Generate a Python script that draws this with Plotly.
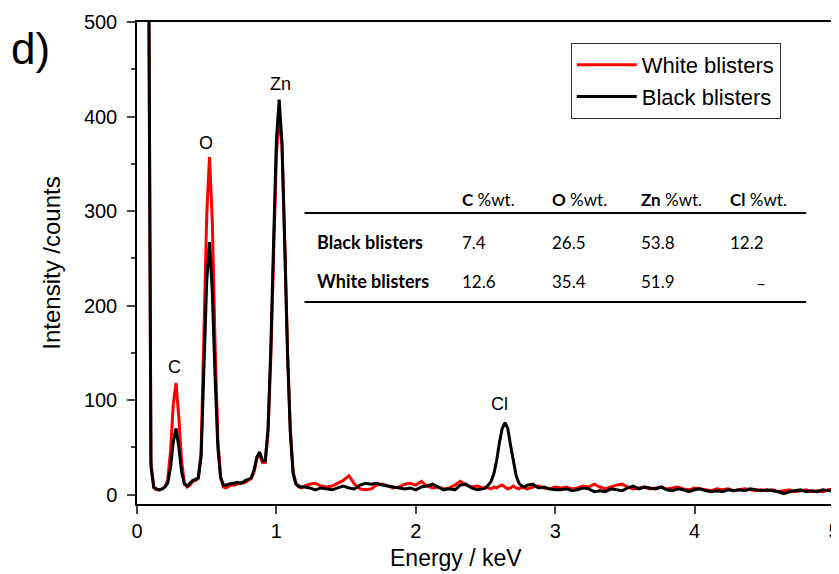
import plotly.graph_objects as go

# ---------------- data ----------------
energy_kev = [
    0.06, 0.08, 0.10, 0.12, 0.14, 0.16, 0.18, 0.20, 0.22, 0.24,
    0.26, 0.28, 0.30, 0.32, 0.34, 0.36, 0.38, 0.40, 0.42, 0.44,
    0.46, 0.48, 0.50, 0.52, 0.54, 0.56, 0.58, 0.60, 0.62, 0.64,
    0.66, 0.68, 0.70, 0.72, 0.74, 0.76, 0.78, 0.80, 0.82, 0.84,
    0.86, 0.88, 0.90, 0.92, 0.94, 0.96, 0.98, 1.00, 1.02, 1.04,
    1.06, 1.08, 1.10, 1.12, 1.14, 1.16, 1.18,
    1.20, 1.24, 1.28, 1.32, 1.36, 1.40, 1.44, 1.48, 1.52, 1.56,
    1.60, 1.64, 1.68, 1.72, 1.76, 1.80, 1.84, 1.88, 1.92, 1.96,
    2.00, 2.04, 2.08, 2.12, 2.16, 2.20, 2.24, 2.28, 2.32, 2.36,
    2.40, 2.44, 2.48,
    2.50, 2.52, 2.54, 2.56, 2.58, 2.60, 2.62, 2.64, 2.66, 2.68,
    2.70, 2.72, 2.74, 2.76, 2.78, 2.80,
    2.84, 2.88, 2.92, 2.96, 3.00, 3.04, 3.08, 3.12, 3.16, 3.20,
    3.24, 3.28, 3.32, 3.36, 3.40, 3.44, 3.48, 3.52, 3.56, 3.60,
    3.64, 3.68, 3.72, 3.76, 3.80, 3.84, 3.88, 3.92, 3.96, 4.00,
    4.04, 4.08, 4.12, 4.16, 4.20, 4.24, 4.28, 4.32, 4.36, 4.40,
    4.44, 4.48, 4.52, 4.56, 4.60, 4.64, 4.68, 4.72, 4.76, 4.80,
    4.84, 4.88, 4.92, 4.96, 5.00,
]

counts_black = [
    3000, 700, 30, 8, 6, 5, 6, 8, 12, 28,
    55, 70, 50, 24, 11, 9, 12, 15, 16, 18,
    40, 135, 225, 267, 215, 125, 50, 18, 10, 10,
    11, 12, 12, 13, 12, 13, 15, 16, 18, 26,
    40, 45, 36, 36, 70, 155, 268, 375, 418, 372,
    262, 148, 65, 22, 11, 9, 8,
    8, 7, 5, 7, 6, 5, 7, 9, 7, 6,
    10, 12, 11, 12, 10, 9, 8, 7, 6, 7,
    5, 8, 9, 11, 8, 5, 6, 5, 10, 11,
    7, 5, 6,
    7, 10, 14, 22, 36, 55, 70, 76, 70, 52,
    36, 20, 12, 9, 8, 10,
    11, 7, 8, 6, 5, 5, 6, 4, 5, 7,
    6, 3, 4, 3, 6, 5, 4, 7, 9, 6,
    8, 7, 6, 8, 5, 4, 6, 5, 3, 5,
    6, 4, 3, 4, 3, 5, 4, 5, 4, 6,
    5, 4, 5, 4, 3, 1, 3, 4, 5, 3,
    4, 3, 5, 4, 4,
]

counts_white = [
    3000, 700, 35, 7, 5, 5, 6, 8, 15, 45,
    95, 118, 82, 35, 12, 8, 10, 14, 15, 17,
    45, 165, 295, 357, 290, 160, 58, 18, 8, 7,
    9, 10, 10, 11, 12, 12, 13, 15, 17, 24,
    38, 42, 34, 34, 65, 145, 255, 360, 400, 370,
    268, 152, 68, 24, 12, 8, 7,
    9, 11, 12, 9, 8, 9, 12, 15, 20, 11,
    6, 5, 6, 10, 11, 9, 7, 8, 11, 12,
    10, 14, 9, 7, 8, 6, 7, 10, 14, 10,
    8, 9, 7,
    8, 7, 6, 8, 7, 9, 10, 8, 6, 7,
    9, 7, 6, 8, 7, 6,
    8, 9, 7, 6, 8, 7, 8, 6, 7, 9,
    8, 11, 8, 6, 8, 10, 11, 8, 6, 7,
    8, 6, 7, 8, 6, 7, 8, 6, 5, 7,
    6, 5, 4, 6, 5, 6, 4, 5, 6, 5,
    4, 5, 4, 5, 3, 4, 5, 3, 4, 5,
    3, 4, 3, 5, 6,
]

series_names = ["White blisters", "Black blisters"]

peak_labels = ["C", "O", "Zn", "Cl"]
peak_label_energy = [0.272, 0.497, 1.03, 2.60]
peak_label_counts = [135, 372, 434, 96]

table_elements = ["C", "O", "Zn", "Cl"]
table_rows = ["Black blisters", "White blisters"]
table_black = ["7.4", "26.5", "53.8", "12.2"]
table_white = ["12.6", "35.4", "51.9", "–"]

y_ticks = [0, 100, 200, 300, 400, 500]
x_ticks = [0, 1, 2, 3, 4, 5]

# ---------------- figure ----------------
# the page body has an 8px margin, so the figure is 8px smaller and all
# reference pixel positions are shifted by 8px
OFF = 8
W, H = 839 - OFF, 574 - OFF
L, R, T, B = 137 - OFF, 3, 22 - OFF, 70
PW, PH = W - L - R, H - T - B


def px(x):
    return (x - OFF - L) / PW


def py(y):
    return (H - B - (y - OFF)) / PH


FONT = "Liberation Sans, Arial, sans-serif"
TFONT = "Lato, Open Sans, sans-serif"

fig = go.Figure()
fig.add_trace(go.Scatter(x=energy_kev, y=counts_white, mode="lines",
                         name=series_names[0],
                         line=dict(color="#ff0000", width=3)))
fig.add_trace(go.Scatter(x=energy_kev, y=counts_black, mode="lines",
                         name=series_names[1],
                         line=dict(color="#000000", width=3)))

annotations = []
for lab, e, c in zip(peak_labels, peak_label_energy, peak_label_counts):
    annotations.append(dict(x=e, y=c, xref="x", yref="y", text=lab,
                            showarrow=False, font=dict(family=FONT, size=18, color="black"),
                            xanchor="center", yanchor="middle"))

# panel letter
annotations.append(dict(x=px(30), y=py(48), xref="paper", yref="paper", text="d)",
                        showarrow=False, font=dict(family=FONT, size=44, color="black"),
                        xanchor="center", yanchor="middle"))

# x axis title
annotations.append(dict(x=px(457), y=py(558), xref="paper", yref="paper", text="Energy / keV",
                        showarrow=False, font=dict(family=FONT, size=23, color="black"),
                        xanchor="center", yanchor="middle"))

# table
TS = 17
col_x = [461, 551, 640, 730]
for el, cx in zip(table_elements, col_x):
    annotations.append(dict(x=px(cx), y=py(199), xref="paper", yref="paper",
                            text=f"<b>{el}</b> %wt.", showarrow=False,
                            font=dict(family=TFONT, size=TS, color="black"),
                            xanchor="left", yanchor="middle"))
row_y = [242, 281]
for rname, vals, ry in zip(table_rows, [table_black, table_white], row_y):
    annotations.append(dict(x=px(316), y=py(ry), xref="paper", yref="paper",
                            text=f"<b>{rname}</b>", showarrow=False,
                            font=dict(family=TFONT, size=TS + 1, color="black"),
                            xanchor="left", yanchor="middle"))
    for v, cx in zip(vals, col_x):
        if v == "–":
            annotations.append(dict(x=px(763), y=py(ry + 2), xref="paper", yref="paper",
                                    text=v, showarrow=False,
                                    font=dict(family=TFONT, size=TS, color="black"),
                                    xanchor="center", yanchor="middle"))
        else:
            annotations.append(dict(x=px(cx), y=py(ry), xref="paper", yref="paper",
                                    text=v, showarrow=False,
                                    font=dict(family=TFONT, size=TS, color="black"),
                                    xanchor="left", yanchor="middle"))

shapes = [
    dict(type="line", xref="paper", yref="paper", x0=px(305), x1=px(808),
         y0=py(213), y1=py(213), line=dict(color="black", width=2)),
    dict(type="line", xref="paper", yref="paper", x0=px(305), x1=px(808),
         y0=py(302), y1=py(302), line=dict(color="black", width=2)),
]

fig.update_layout(
    width=W, height=H,
    margin=dict(l=L, r=R, t=T, b=B, pad=0),
    paper_bgcolor="white", plot_bgcolor="white",
    font=dict(family=FONT, size=20, color="black"),
    showlegend=True,
    legend=dict(x=px(572), y=py(43), xanchor="left", yanchor="top",
                bordercolor="#333333", borderwidth=1, bgcolor="white",
                font=dict(family=FONT, size=22, color="black"),
                itemwidth=60, tracegroupgap=0),
    annotations=annotations,
    shapes=shapes,
)

fig.update_xaxes(range=[0, 5], tickvals=x_ticks, ticks="outside", ticklen=8, tickwidth=1.5,
                 showline=True, linecolor="black", linewidth=1.5, mirror=True,
                 showgrid=False, zeroline=False, ticklabeloverflow="allow",
                 automargin=False,
                 tickfont=dict(family=FONT, size=20, color="black"), ticklabelstandoff=0)
fig.update_yaxes(range=[-10, 500], tickvals=y_ticks, ticks="outside", ticklen=8, tickwidth=1.5,
                 minor=dict(dtick=50, ticks="outside", ticklen=4, tickwidth=1.5, showgrid=False),
                 showline=True, linecolor="black", linewidth=1.5, mirror=True,
                 showgrid=False, zeroline=False,
                 tickfont=dict(family=FONT, size=20, color="black"), ticklabelstandoff=6,
                 title=dict(text="Intensity /counts", standoff=16,
                            font=dict(family=FONT, size=24, color="black")))

fig.write_html("out.html")
